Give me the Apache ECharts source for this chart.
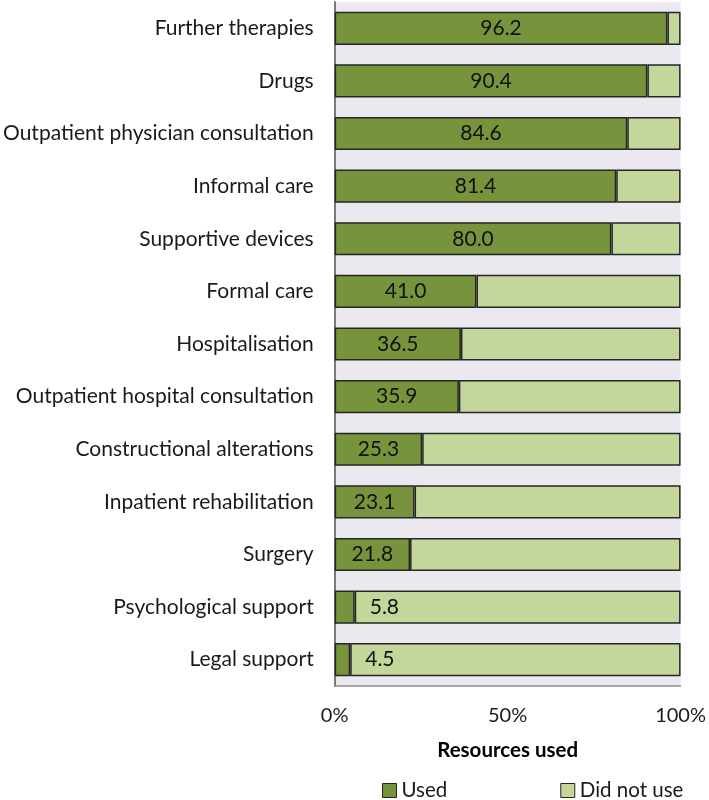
<!DOCTYPE html>
<html><head><meta charset="utf-8">
<script src="https://cdn.jsdelivr.net/npm/echarts@6/dist/echarts.min.js"></script>
<style>html,body{margin:0;padding:0;background:#fff}#c{width:709px;height:800px}</style>
</head><body><div id="c"></div>
<script>
const categories = ["Further therapies","Drugs","Outpatient physician consultation","Informal care","Supportive devices","Formal care","Hospitalisation","Outpatient hospital consultation","Constructional alterations","Inpatient rehabilitation","Surgery","Psychological support","Legal support"];
const usedValues = [96.2,90.4,84.6,81.4,80.0,41.0,36.5,35.9,25.3,23.1,21.8,5.8,4.5];
const notUsedValues = usedValues.map(v => +(100 - v).toFixed(1));
const xTicks = ["0%","50%","100%"];
const seriesNames = ["Used","Did not use"];

const FONT = "Lato";
const chart = echarts.init(document.getElementById('c'));
chart.setOption({
  animation:false,
  textStyle:{fontFamily:FONT},
  grid:{left:334,right:26,top:2,bottom:114,show:true,backgroundColor:'#EBE9EF',borderWidth:0},
  legend:{
    top:780,left:382,padding:0,itemGap:113,itemWidth:14,itemHeight:14,
    textStyle:{fontSize:20.5,color:'#1a1a1a',fontFamily:FONT},
    data:seriesNames.map(n=>({name:n,icon:'rect',itemStyle:{borderColor:'#262626',borderWidth:1}}))
  },
  xAxis:{
    type:'value',min:0,max:100,interval:50,
    axisLine:{show:true,lineStyle:{color:'#8c8c8c',width:1.5}},
    axisTick:{show:false},splitLine:{show:false},
    axisLabel:{fontSize:20,color:'#1a1a1a',margin:20,formatter:(v)=>xTicks[Math.round(v/50)]},
    name:'Resources used',nameLocation:'middle',nameGap:54,
    nameTextStyle:{fontSize:20.5,fontWeight:'bold',color:'#000'}
  },
  yAxis:{
    type:'category',data:categories,inverse:true,
    axisLine:{show:true,lineStyle:{color:'#7a7a7a',width:2}},
    axisTick:{show:false},
    axisLabel:{fontSize:21,color:'#1a1a1a',margin:21}
  },
  series:[
    {name:seriesNames[0],type:'bar',stack:'t',barWidth:'63%',
     itemStyle:{color:'#77933C',borderColor:'#262626',borderWidth:1.5},
     data:usedValues.map(v=>({value:v,label:{position: v<10?'right':'inside',distance:15}})),
     label:{show:true,fontSize:21,color:'#111',fontFamily:FONT,formatter:p=>p.value.toFixed(1)}
    },
    {name:seriesNames[1],type:'bar',stack:'t',barWidth:'63%',
     itemStyle:{color:'#C4D79B',borderColor:'#262626',borderWidth:1.5},
     data:notUsedValues}
  ]
});
</script></body></html>
